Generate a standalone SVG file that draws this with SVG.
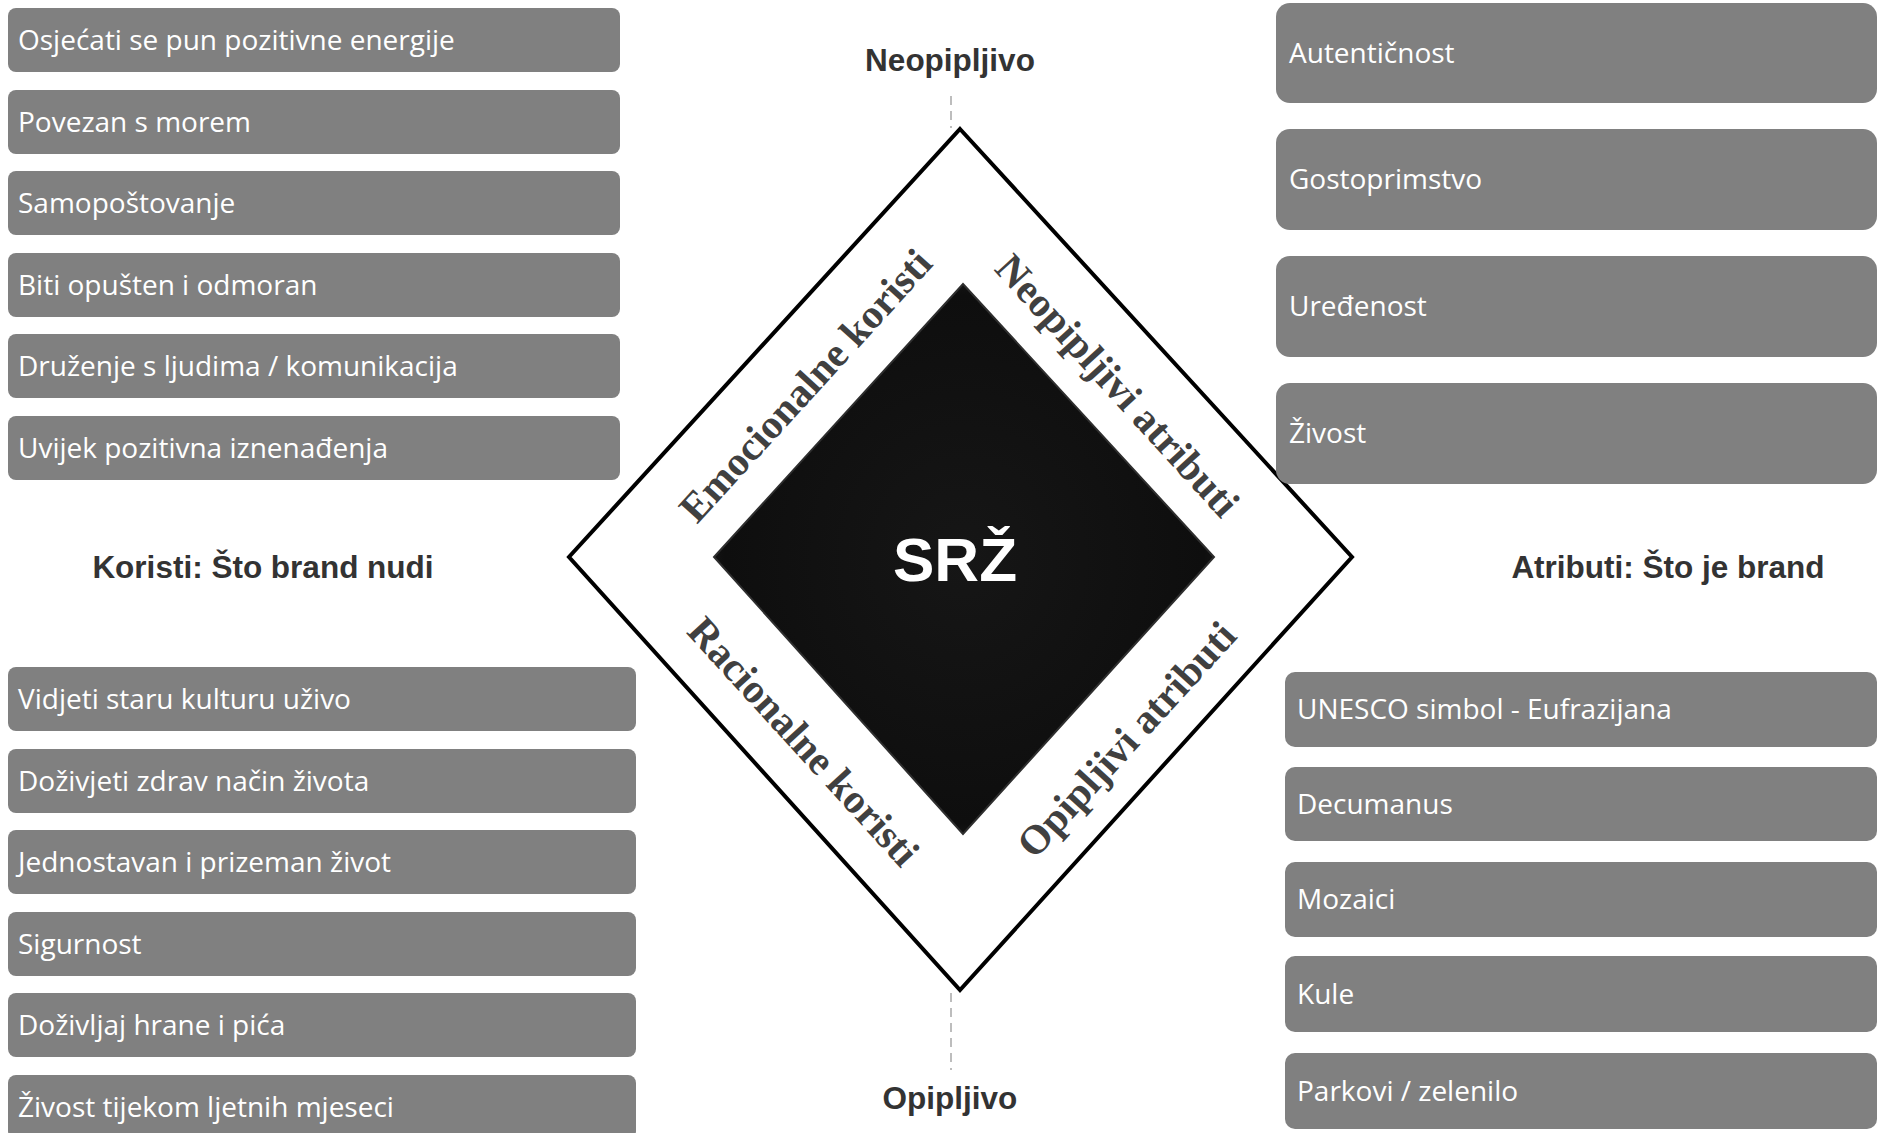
<svg xmlns="http://www.w3.org/2000/svg" width="1879" height="1133" viewBox="0 0 1879 1133">
  <style>
    .box { fill: #808080; }
    .item { font-family: "Open Sans", "Liberation Sans", sans-serif; font-size: 28px; fill: #ffffff; }
    .axis { font-family: "Liberation Sans", Arial, sans-serif; font-size: 31.5px; font-weight: bold; fill: #333333; text-anchor: middle; }
    .side { font-family: "Liberation Serif", "Times New Roman", serif; font-size: 41px; font-weight: bold; fill: #404040; text-anchor: middle; }
    .core { font-family: "Liberation Sans", Arial, sans-serif; font-size: 62px; font-weight: bold; fill: #ffffff; text-anchor: middle; }
    .dash { stroke: #bdbdbd; stroke-width: 2; stroke-dasharray: 9 6; fill: none; }
  </style>
  <defs>
    <radialGradient id="coreGrad" cx="50%" cy="50%" r="60%">
      <stop offset="0" stop-color="#161616"/>
      <stop offset="0.8" stop-color="#0e0e0e"/>
      <stop offset="1" stop-color="#2a2a2a"/>
    </radialGradient>
  </defs>

  <rect width="1879" height="1133" fill="#ffffff"/>

  <!-- dashed axis ticks -->
  <g id="connectors">
    <line class="dash" x1="951" y1="96" x2="951" y2="128"/>
    <line class="dash" x1="951" y1="993" x2="951" y2="1070"/>
  </g>

  <!-- brand diamond -->
  <g id="diamond">
    <polygon points="960,129 1352,557 960,990 569,557" fill="#ffffff" stroke="#000000" stroke-width="4" stroke-linejoin="miter"/>
    <polygon points="963,284 1214,557 963,834 714,557" fill="url(#coreGrad)" stroke="#2e2e2e" stroke-width="2"/>
  </g>
  <g id="core">
    <text class="core" x="955" y="581">SRŽ</text>
  </g>

  <g id="emotional">
    <text class="side" transform="translate(806,386) rotate(-47.6)" y="13">Emocionalne koristi</text>
  </g>
  <g id="intangible-attributes">
    <text class="side" transform="translate(1117,386) rotate(47.6)" y="13">Neopipljivi atributi</text>
  </g>
  <g id="rational">
    <text class="side" transform="translate(803,742) rotate(47.6)" y="13">Racionalne koristi</text>
  </g>
  <g id="tangible-attributes">
    <text class="side" transform="translate(1127,740) rotate(-47.6)" y="13">Opipljivi atributi</text>
  </g>

  <!-- axis and side headings -->
  <g id="label-intangible"><text class="axis" x="950" y="71">Neopipljivo</text></g>
  <g id="label-tangible"><text class="axis" x="950" y="1109">Opipljivo</text></g>
  <g id="label-benefits"><text class="axis" x="263" y="578">Koristi: Što brand nudi</text></g>
  <g id="label-attributes"><text class="axis" x="1668" y="578">Atributi: Što je brand</text></g>

  <!-- emotional benefits -->
  <g id="eb1"><rect class="box" x="8" y="8" width="612" height="64" rx="8"/><text class="item" x="18" y="50">Osjećati se pun pozitivne energije</text></g>
  <g id="eb2"><rect class="box" x="8" y="90" width="612" height="64" rx="8"/><text class="item" x="18" y="132">Povezan s morem</text></g>
  <g id="eb3"><rect class="box" x="8" y="171" width="612" height="64" rx="8"/><text class="item" x="18" y="213">Samopoštovanje</text></g>
  <g id="eb4"><rect class="box" x="8" y="253" width="612" height="64" rx="8"/><text class="item" x="18" y="295">Biti opušten i odmoran</text></g>
  <g id="eb5"><rect class="box" x="8" y="334" width="612" height="64" rx="8"/><text class="item" x="18" y="376">Druženje s ljudima / komunikacija</text></g>
  <g id="eb6"><rect class="box" x="8" y="416" width="612" height="64" rx="8"/><text class="item" x="18" y="458">Uvijek pozitivna iznenađenja</text></g>

  <!-- rational benefits -->
  <g id="rb1"><rect class="box" x="8" y="667" width="628" height="64" rx="8"/><text class="item" x="18" y="709">Vidjeti staru kulturu uživo</text></g>
  <g id="rb2"><rect class="box" x="8" y="749" width="628" height="64" rx="8"/><text class="item" x="18" y="791">Doživjeti zdrav način života</text></g>
  <g id="rb3"><rect class="box" x="8" y="830" width="628" height="64" rx="8"/><text class="item" x="18" y="872">Jednostavan i prizeman život</text></g>
  <g id="rb4"><rect class="box" x="8" y="912" width="628" height="64" rx="8"/><text class="item" x="18" y="954">Sigurnost</text></g>
  <g id="rb5"><rect class="box" x="8" y="993" width="628" height="64" rx="8"/><text class="item" x="18" y="1035">Doživljaj hrane i pića</text></g>
  <g id="rb6"><rect class="box" x="8" y="1075" width="628" height="64" rx="8"/><text class="item" x="18" y="1117">Živost tijekom ljetnih mjeseci</text></g>

  <!-- intangible attributes -->
  <g id="ia1"><rect class="box" x="1276" y="3" width="601" height="100" rx="14"/><text class="item" x="1289" y="63">Autentičnost</text></g>
  <g id="ia2"><rect class="box" x="1276" y="129" width="601" height="101" rx="14"/><text class="item" x="1289" y="189">Gostoprimstvo</text></g>
  <g id="ia3"><rect class="box" x="1276" y="256" width="601" height="101" rx="14"/><text class="item" x="1289" y="316">Uređenost</text></g>
  <g id="ia4"><rect class="box" x="1276" y="383" width="601" height="101" rx="14"/><text class="item" x="1289" y="443">Živost</text></g>

  <!-- tangible attributes -->
  <g id="ta1"><rect class="box" x="1285" y="672" width="592" height="75" rx="10"/><text class="item" x="1297" y="719">UNESCO simbol - Eufrazijana</text></g>
  <g id="ta2"><rect class="box" x="1285" y="767" width="592" height="74" rx="10"/><text class="item" x="1297" y="814">Decumanus</text></g>
  <g id="ta3"><rect class="box" x="1285" y="862" width="592" height="75" rx="10"/><text class="item" x="1297" y="909">Mozaici</text></g>
  <g id="ta4"><rect class="box" x="1285" y="956" width="592" height="76" rx="10"/><text class="item" x="1297" y="1004">Kule</text></g>
  <g id="ta5"><rect class="box" x="1285" y="1053" width="592" height="76" rx="10"/><text class="item" x="1297" y="1101">Parkovi / zelenilo</text></g>
</svg>
